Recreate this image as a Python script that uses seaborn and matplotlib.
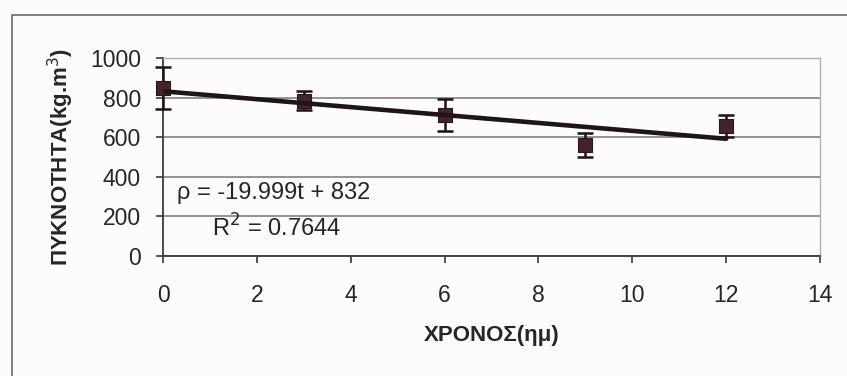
import numpy as np
import pandas as pd
import matplotlib
matplotlib.use("Agg")
import matplotlib.pyplot as plt
from matplotlib.patches import Rectangle
import seaborn as sns

# Density measurements over storage time
time_months = [0, 3, 6, 9, 12]
density_mean = [848, 783, 713, 561, 655]
density_err = [105, 48, 80, 60, 55]

# Linear trend reported on the chart
slope = -19.999
intercept = 832
r_squared = 0.7644
trend_t = [0, 12]

x_ticks = [0, 2, 4, 6, 8, 10, 12, 14]
y_ticks = [0, 200, 400, 600, 800, 1000]

sns.set_theme(style="white")
plt.rcParams["font.family"] = ["Liberation Sans", "DejaVu Sans"]

fig = plt.figure(figsize=(8.47, 3.76), dpi=100, facecolor="#fcfcfa")
ax = fig.add_axes([163 / 847, 1 - 256 / 376, 657 / 847, 198 / 376])
ax.set_facecolor("#fcfcfa")

# outer chart frame
fig.patches.append(Rectangle((12 / 847, -0.05), 1.2, 1 - 15 / 376 + 0.05,
                             transform=fig.transFigure, fill=False,
                             edgecolor="#6a6a6a", linewidth=1.2, zorder=0))

df = pd.DataFrame({"t": time_months, "rho": density_mean, "err": density_err})
trend = pd.DataFrame({"t": trend_t,
                      "rho": [slope * t + intercept for t in trend_t]})

eb = ax.errorbar(df["t"], df["rho"], yerr=df["err"], fmt="none",
                 ecolor="#1a1414", elinewidth=1.8, capsize=6, capthick=1.8,
                 zorder=3)
for artist in eb.lines[1] + eb.lines[2]:
    artist.set_clip_on(False)
sns.scatterplot(data=df, x="t", y="rho", marker="s", s=115,
                color="#45232a", edgecolor="#2a1518", linewidth=0.8,
                ax=ax, zorder=4, clip_on=False)
sns.lineplot(data=trend, x="t", y="rho", color="#1f1516", linewidth=3.3,
             ax=ax, zorder=5)

ax.set_xlim(0, 14)
ax.set_ylim(0, 1000)
ax.set_xticks(x_ticks)
ax.set_yticks(y_ticks)
ax.grid(axis="y", color="#8a8a8a", linewidth=1.3)
ax.set_axisbelow(True)

for side in ["top", "right"]:
    ax.spines[side].set_color("#b0b0b0")
    ax.spines[side].set_linewidth(1.0)
for side in ["left", "bottom"]:
    ax.spines[side].set_color("#3a3a3a")
    ax.spines[side].set_linewidth(1.3)

ax.tick_params(axis="both", which="major", direction="out", length=5,
               width=1.2, color="#3a3a3a", labelsize=16.5, labelcolor="#262626")
ax.tick_params(axis="y", pad=11, left=True)
ax.tick_params(axis="x", pad=15, bottom=True)

ax.set_xlabel("ΧΡΟΝΟΣ(ημ)", fontsize=16, fontweight="bold",
              color="#262626", labelpad=13)
ax.set_ylabel("ΠΥΚΝΟΤΗΤΑ(kg.m$^{3}$)", fontsize=16, fontweight="bold",
              color="#262626", labelpad=10)

ax.text(0.3, 318, f"ρ = {slope}t + {intercept}", fontsize=17,
        color="#262626", va="center", ha="left")
ax.text(1.04, 141, f"R$^{{2}}$ = {r_squared}", fontsize=17,
        color="#262626", va="center", ha="left")

fig.savefig("out.png", dpi=100, facecolor=fig.get_facecolor())
